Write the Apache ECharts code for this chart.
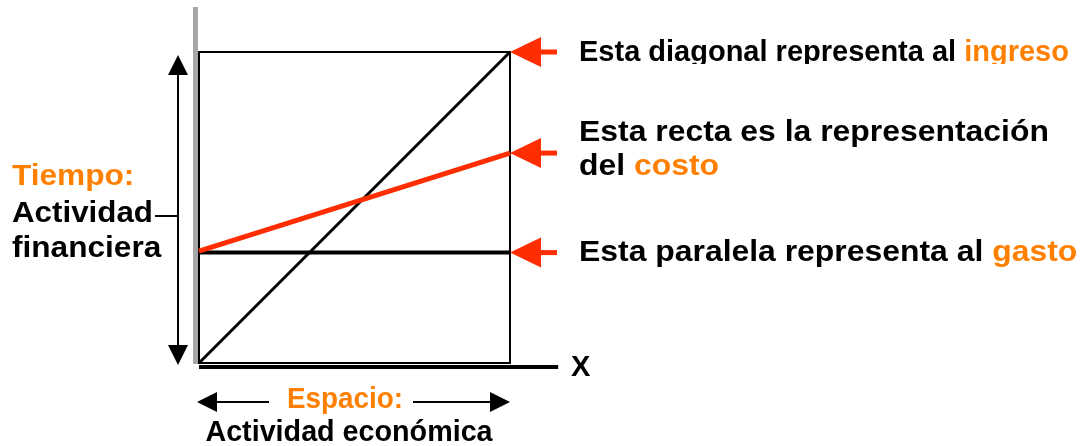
<!DOCTYPE html>
<html>
<head>
<meta charset="utf-8">
<script src="https://cdn.jsdelivr.net/npm/echarts@6/dist/echarts.min.js"></script>
<style>
  html, body { margin: 0; padding: 0; background: #fff; }
  #chart { width: 1084px; height: 446px; }
</style>
</head>
<body>
<div id="chart"></div>
<script>
// x runs from start to end of the activity box; y is share of box height
const xEnds = [0, 1]
const ingreso = [0, 1]
const costo = [0.36, 0.675]
const gasto = [0.355, 0.355]
const xAxisEnd = 1.155

const labelIngreso = ['Esta diagonal representa al ', 'ingreso']
const labelCosto = ['Esta recta es la representación', 'del ', 'costo']
const labelGasto = ['Esta paralela representa al ', 'gasto']
const labelTiempo = ['Tiempo:', 'Actividad', 'financiera']
const labelEspacio = ['Espacio:', 'Actividad económica']

const ORANGE = '#ff8000'
const RED = '#ff2d00'
const FONT = 'bold 29px "Liberation Sans", Arial, sans-serif'

const chart = echarts.init(document.getElementById('chart'))

const toPairs = ys => xEnds.map((x, i) => [x, ys[i]])

chart.setOption({
  animation: false,
  grid: {
    left: 199, top: 52, width: 311, height: 311,
    show: true, borderColor: '#000', borderWidth: 2, backgroundColor: 'transparent'
  },
  xAxis: { type: 'value', min: 0, max: 1, show: false },
  yAxis: { type: 'value', min: 0, max: 1, show: false },
  series: [
    { type: 'line', data: toPairs(ingreso), showSymbol: false, lineStyle: { color: '#000', width: 3 } },
    { type: 'line', data: toPairs(gasto), showSymbol: false, lineStyle: { color: '#000', width: 4 } },
    { type: 'line', data: toPairs(costo), showSymbol: false, lineStyle: { color: RED, width: 5 } }
  ]
})

const px = (x, y) => chart.convertToPixel({ gridIndex: 0 }, [x, y])

const redArrow = (y) => {
  const [tx, ty] = px(1, y)
  return [
    { type: 'polygon', shape: { points: [[tx, ty], [tx + 31, ty - 15], [tx + 31, ty + 15]] }, style: { fill: RED } },
    { type: 'rect', shape: { x: tx + 30, y: ty - 2.5, width: 17, height: 5 }, style: { fill: RED } }
  ]
}

const text = (x, y, parts, sx, align) => {
  const rich = { k: { fill: '#000', font: FONT }, o: { fill: ORANGE, font: FONT } }
  const str = parts.map(p => `{${p[1] ? 'o' : 'k'}|${p[0]}}`).join('')
  return {
    type: 'text', x: x, y: y, scaleX: sx, z: 10,
    style: { text: str, rich: rich, font: FONT, textAlign: align || 'left', textVerticalAlign: 'middle' }
  }
}

const [x0, y0] = px(0, 0)
const [x1, y1] = px(1, 1)
const [xe] = px(xAxisEnd, 0)

const elements = [
  // grey vertical axis
  { type: 'rect', shape: { x: x0 - 6, y: 7, width: 5, height: y0 - 6 }, style: { fill: '#a6a6a6' } },
  // thick X axis
  { type: 'rect', shape: { x: x0, y: y0 + 2, width: xe - x0, height: 4 }, style: { fill: '#000' } },
  { type: 'text', x: 571, y: 368, z: 10, style: { text: 'X', font: FONT, fill: '#000', textVerticalAlign: 'middle' } },
  // vertical double arrow
  { type: 'line', shape: { x1: 178, y1: 72, x2: 178, y2: 347 }, style: { stroke: '#000', lineWidth: 2 } },
  { type: 'polygon', shape: { points: [[178, 55], [168, 75], [188, 75]] }, style: { fill: '#000' } },
  { type: 'polygon', shape: { points: [[178, 365], [168, 345], [188, 345]] }, style: { fill: '#000' } },
  { type: 'line', shape: { x1: 155, y1: 216, x2: 178, y2: 216 }, style: { stroke: '#000', lineWidth: 2 } },
  // horizontal arrows
  { type: 'line', shape: { x1: 215, y1: 402, x2: 269, y2: 402 }, style: { stroke: '#000', lineWidth: 2 } },
  { type: 'polygon', shape: { points: [[x0 - 2, 402], [x0 + 18, 392], [x0 + 18, 412]] }, style: { fill: '#000' } },
  { type: 'line', shape: { x1: 413, y1: 402, x2: 492, y2: 402 }, style: { stroke: '#000', lineWidth: 2 } },
  { type: 'polygon', shape: { points: [[x1, 402], [x1 - 20, 392], [x1 - 20, 412]] }, style: { fill: '#000' } },
  // red pointer arrows
  ...redArrow(ingreso[1]),
  ...redArrow(costo[1]),
  ...redArrow(gasto[1]),
  // labels
  text(579, 53, [[labelIngreso[0]], [labelIngreso[1], 1]], 1.0),
  { type: 'rect', z: 11, shape: { x: 570, y: 64, width: 514, height: 12 }, style: { fill: '#fff' } },
  text(579, 133, [[labelCosto[0]]], 1.1),
  text(579, 167, [[labelCosto[1]], [labelCosto[2], 1]], 1.1),
  text(579, 253, [[labelGasto[0]], [labelGasto[1], 1]], 1.1),
  text(12, 177, [[labelTiempo[0], 1]], 1.09),
  text(12, 214, [[labelTiempo[1]]], 1.08),
  text(12, 249, [[labelTiempo[2]]], 1.09),
  text(345, 400, [[labelEspacio[0], 1]], 0.96, 'center'),
  text(349, 433, [[labelEspacio[1]]], 0.99, 'center')
]

chart.setOption({ graphic: { elements: elements } })

window.addEventListener('resize', () => chart.resize())
</script>
</body>
</html>
